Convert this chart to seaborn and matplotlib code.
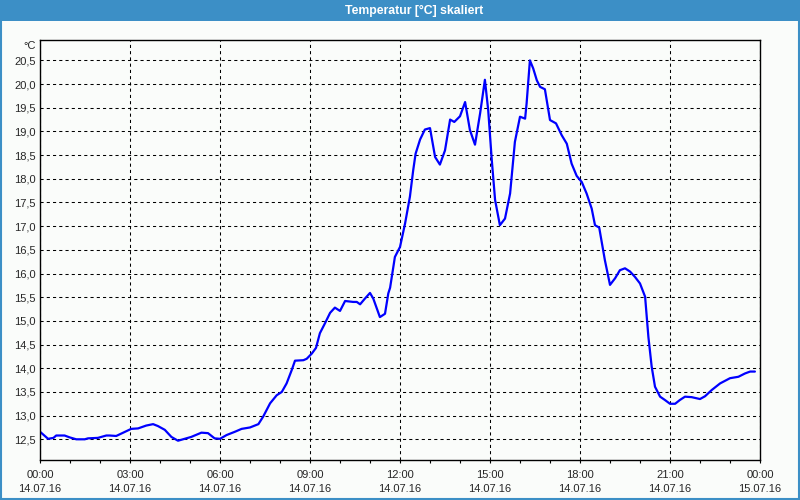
import matplotlib
matplotlib.use("Agg")
import matplotlib.pyplot as plt
import seaborn as sns
import pandas as pd
from matplotlib.ticker import FixedLocator, MultipleLocator
from matplotlib.patches import Rectangle

# ---- data (hours since 14.07.16 00:00, temperature in °C) ----
hours = [0.00, 0.27, 0.45, 0.54, 0.82, 0.99, 1.21, 1.49, 1.60, 1.93, 2.21, 2.32, 2.54, 2.77,
         3.04, 3.27, 3.54, 3.77, 3.93, 4.16, 4.38, 4.60, 4.77, 5.04, 5.38, 5.60, 5.82, 6.00,
         6.22, 6.50, 6.72, 7.00, 7.28, 7.44, 7.67, 7.89, 8.06, 8.22, 8.39, 8.50, 8.78, 8.89,
         9.06, 9.20, 9.33, 9.50, 9.67, 9.83, 10.00, 10.17, 10.44, 10.56, 10.67, 10.83, 11.00,
         11.11, 11.33, 11.50, 11.61, 11.67, 11.83, 12.00, 12.17, 12.33, 12.44, 12.52, 12.67,
         12.83, 13.00, 13.17, 13.33, 13.50, 13.67, 13.81, 14.00, 14.17, 14.33, 14.50, 14.67,
         14.83, 14.94, 15.06, 15.17, 15.33, 15.50, 15.67, 15.83, 16.00, 16.17, 16.22, 16.33,
         16.44, 16.56, 16.67, 16.83, 17.00, 17.20, 17.39, 17.56, 17.72, 17.89, 18.06, 18.22,
         18.39, 18.50, 18.64, 18.83, 19.00, 19.17, 19.33, 19.50, 19.67, 19.83, 20.00, 20.17,
         20.28, 20.39, 20.50, 20.67, 20.83, 21.00, 21.17, 21.33, 21.50, 21.72, 22.00, 22.17,
         22.39, 22.67, 23.00, 23.28, 23.50, 23.67, 23.83]
temps = [12.66, 12.51, 12.53, 12.58, 12.58, 12.54, 12.50, 12.50, 12.52, 12.53, 12.58, 12.58, 12.57, 12.64,
         12.72, 12.73, 12.79, 12.82, 12.78, 12.70, 12.55, 12.47, 12.50, 12.55, 12.64, 12.63, 12.52, 12.51,
         12.59, 12.66, 12.72, 12.75, 12.82, 12.98, 13.26, 13.43, 13.50, 13.68, 13.96, 14.16, 14.17, 14.20,
         14.31, 14.43, 14.74, 14.95, 15.17, 15.28, 15.21, 15.42, 15.40, 15.40, 15.35, 15.47, 15.59,
         15.47, 15.08, 15.15, 15.58, 15.70, 16.35, 16.56, 17.06, 17.62, 18.18, 18.53, 18.83,
         19.04, 19.07, 18.46, 18.30, 18.60, 19.25, 19.20, 19.32, 19.62, 19.03, 18.72, 19.38,
         20.09, 19.45, 18.39, 17.55, 17.02, 17.16, 17.69, 18.78, 19.31, 19.27, 19.59, 20.50,
         20.33, 20.08, 19.94, 19.89, 19.24, 19.17, 18.92, 18.74, 18.32, 18.06, 17.93, 17.69,
         17.37, 17.02, 16.97, 16.28, 15.76, 15.90, 16.07, 16.11, 16.04, 15.93, 15.79, 15.51,
         14.66, 14.03, 13.61, 13.40, 13.33, 13.25, 13.25, 13.33, 13.40, 13.39, 13.35, 13.41,
         13.54, 13.68, 13.79, 13.82, 13.89, 13.93, 13.93]

x_ticks = [0, 3, 6, 9, 12, 15, 18, 21, 24]
x_tick_labels = ["00:00\n14.07.16", "03:00\n14.07.16", "06:00\n14.07.16", "09:00\n14.07.16",
                 "12:00\n14.07.16", "15:00\n14.07.16", "18:00\n14.07.16", "21:00\n14.07.16",
                 "00:00\n15.07.16"]
y_ticks = [12.5, 13.0, 13.5, 14.0, 14.5, 15.0, 15.5, 16.0, 16.5, 17.0, 17.5, 18.0, 18.5,
           19.0, 19.5, 20.0, 20.5]
y_tick_labels = ["12,5", "13,0", "13,5", "14,0", "14,5", "15,0", "15,5", "16,0", "16,5",
                 "17,0", "17,5", "18,0", "18,5", "19,0", "19,5", "20,0", "20,5"]
title = "Temperatur [°C] skaliert"
unit = "°C"

df = pd.DataFrame({"h": hours, "t": temps})

bg = "#FAFCFA"
bar = "#3C8FC6"

sns.set_style("white")
plt.rcParams["font.family"] = ["Liberation Sans", "DejaVu Sans"]

fig = plt.figure(figsize=(8, 5), dpi=100, facecolor=bg)
ax = fig.add_axes([40 / 800, 40 / 500, 720 / 800, 420 / 500])
ax.set_facecolor(bg)

sns.lineplot(data=df, x="h", y="t", ax=ax, color="#0000FF", linewidth=1.6, sort=False)

ax.set_xlim(0, 24)
ax.set_ylim(12.063, 20.93)
ax.set_xlabel("")
ax.set_ylabel("")

ax.xaxis.set_major_locator(FixedLocator(x_ticks))
ax.set_xticklabels(x_tick_labels, fontsize=8, linespacing=1.45)
ax.xaxis.set_minor_locator(MultipleLocator(1))
ax.yaxis.set_major_locator(FixedLocator(y_ticks))
ax.set_yticklabels(y_tick_labels, fontsize=8)

ax.grid(True, which="major", color="black", linestyle=(0, (3, 3)), linewidth=0.75)
ax.tick_params(axis="x", which="both", direction="out", length=2.5, width=0.8,
               color="black", pad=5, labelsize=8, bottom=True)
ax.tick_params(axis="y", which="both", length=0, pad=3, labelsize=8, left=False)
for s in ax.spines.values():
    s.set_color("black")
    s.set_linewidth(1.0)
    s.set_visible(True)

# unit label above the y tick labels
fig.text(36 / 800, 1 - 46 / 500, unit, ha="right", va="center", fontsize=8)

# title bar
fig.patches.append(Rectangle((0, 1 - 21 / 500), 1, 21 / 500, transform=fig.transFigure,
                             facecolor=bar, edgecolor="none", zorder=0))
fig.text(414 / 800, 1 - 10.5 / 500, title, ha="center", va="center", color="white",
         fontsize=8.8, fontweight="bold")
# blue border
fig.patches.append(Rectangle((0.001, 0.002), 0.998, 0.996, transform=fig.transFigure,
                             fill=False, edgecolor=bar, linewidth=1.5, zorder=5))

fig.savefig("out.png", dpi=100, facecolor=bg)
